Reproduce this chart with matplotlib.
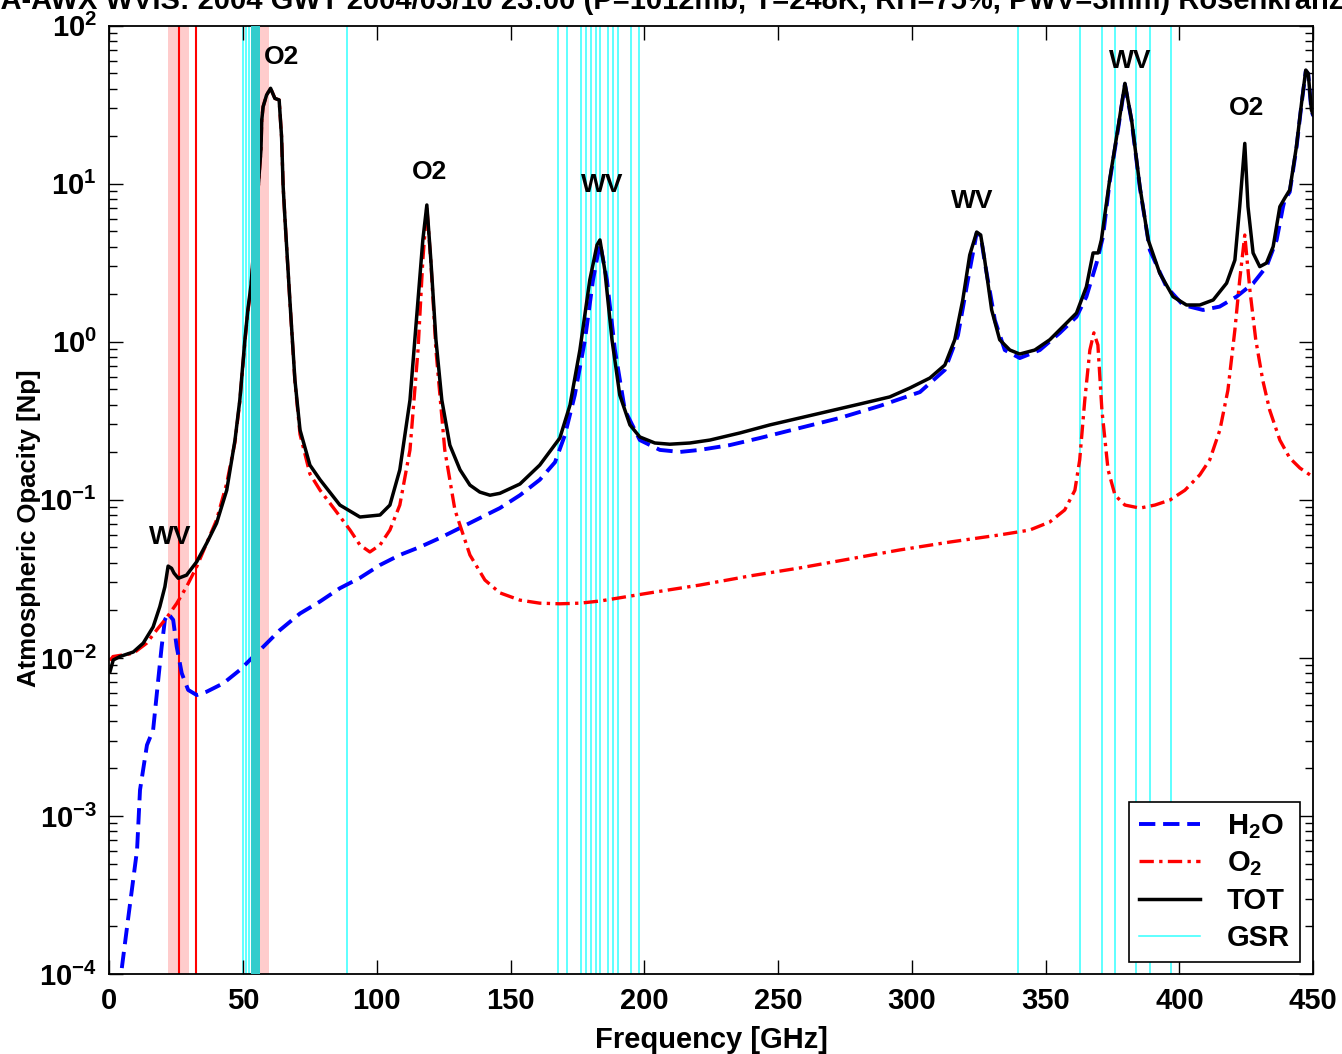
import numpy as np
import matplotlib
matplotlib.use("Agg")
import matplotlib.pyplot as plt
from matplotlib.lines import Line2D

plt.rcParams["font.family"] = ["Liberation Sans", "DejaVu Sans"]
plt.rcParams["font.weight"] = "bold"
plt.rcParams["mathtext.fontset"] = "custom"
plt.rcParams["mathtext.rm"] = "Liberation Sans:bold"
plt.rcParams["mathtext.bf"] = "Liberation Sans:bold"
plt.rcParams["mathtext.default"] = "bf"

# total opacity [Np] vs frequency [GHz]
tot_f = [0.3, 1.5, 4.0, 9.0, 12.7, 16.4, 18.9, 20.8, 22.0, 23.3, 24.2, 25.8, 28.9,
         32.7, 36.4, 40.1, 43.9, 47.0, 48.8, 50.7, 51.8, 53.0,
         56.7, 57.0, 57.5, 58.8, 60.3, 61.9, 63.5, 64.4, 65.0, 65.7, 67.5, 69.4,
         71.3, 75.0, 78.8, 86.2, 93.7, 101.2, 104.9, 108.6, 112.4, 115.4, 117.2,
         118.7, 120.2, 122.1, 124.3, 127.3, 131.1, 134.8, 138.5, 142.3, 146.0,
         153.5, 160.9, 168.4, 172.2, 175.9, 179.6, 182.3, 183.4, 185.2, 187.9,
         190.8, 194.6, 198.3, 203.9, 209.5, 217.0, 224.5, 235.7, 246.9, 258.1,
         269.3, 280.5, 291.7, 299.2, 306.7, 312.3, 316.0, 319.0, 321.6, 324.2,
         325.7, 327.2, 329.8, 332.8, 336.6, 340.3, 345.9, 351.5, 357.1, 361.5,
         365.2, 367.7, 369.6, 370.8, 373.9, 377.1, 379.6, 382.1, 385.2, 388.3,
         392.6, 397.6, 402.6, 407.6, 412.6, 417.6, 420.7, 422.5, 424.4, 425.6,
         427.5, 430.0, 432.5, 435.0, 437.5, 439.3, 441.2, 443.7, 445.6, 447.2,
         448.1, 449.3, 450.0]
tot_v = [0.0082, 0.0097, 0.0102, 0.0109, 0.0124, 0.0157, 0.0211, 0.0282, 0.0381,
         0.0369, 0.0344, 0.0319, 0.0334, 0.0406, 0.0531, 0.0711, 0.115, 0.239,
         0.428, 1.03, 1.59, 2.29,
         16.4, 25.3, 30.7, 36.4, 40.2, 34.7, 33.9, 19.9, 9.58, 5.90, 1.84, 0.573,
         0.277, 0.166, 0.134, 0.0927, 0.0779, 0.0802, 0.0927, 0.155, 0.428, 1.84,
         4.41, 7.34, 3.29, 1.03, 0.428, 0.222, 0.155, 0.124, 0.112, 0.107, 0.110,
         0.126, 0.166, 0.246, 0.398, 0.887, 2.46, 4.10, 4.41, 2.85, 1.03,
         0.461, 0.298, 0.250, 0.229, 0.225, 0.229, 0.239, 0.265, 0.298, 0.330,
         0.365, 0.404, 0.448, 0.510, 0.590, 0.713, 1.03, 1.84, 3.54, 4.95,
         4.74, 3.29, 1.59, 1.03, 0.887, 0.837, 0.887, 1.03, 1.28, 1.52,
         2.23, 3.65, 3.65, 4.41, 10.6, 23.0, 43.2, 25.3, 9.58, 4.41,
         2.72, 1.93, 1.71, 1.71, 1.84, 2.35, 3.29, 7.16, 18.0, 7.16,
         3.65, 2.99, 3.15, 4.00, 7.16, 8.09, 9.13, 17.2, 32.3, 52.4,
         50.0, 29.3, 27.2]

# water vapour contribution
h2o_f = [4.7, 7.0, 10.4, 11.5, 14.1, 16.4, 18.3, 19.6, 20.8, 22.0, 23.9, 25.2,
         27.1, 29.5, 32.7, 36.4, 42.6, 48.8, 56.3, 63.8, 71.3, 78.7, 86.2, 93.7,
         101.2, 108.6, 116.1, 123.6, 131.1, 138.5, 146.0, 153.5, 160.9, 166.6,
         170.3, 174.0, 177.8, 180.8, 183.4, 186.0, 189.0, 192.7, 198.3, 205.8,
         213.3, 220.7, 231.9, 243.1, 258.1, 273.1, 288.0, 303.0, 312.3, 317.2,
         320.9, 324.2, 325.7, 327.2, 331.0, 334.7, 340.3, 347.8, 355.3, 361.5,
         365.2, 369.0, 371.4, 373.9, 377.1, 379.6, 382.1, 385.2, 388.9, 395.1,
         401.3, 408.8, 415.0, 421.3, 427.5, 432.5, 436.3, 438.7, 439.3, 441.2,
         443.7, 445.6, 447.2, 448.1, 449.3, 450.0]
h2o_v = [1.09e-4, 2.2e-4, 6.1e-4, 1.46e-3, 2.81e-3, 3.5e-3, 7.24e-3, 0.0118,
         0.0174, 0.0191, 0.0174, 0.0118, 8.0e-3, 6.27e-3, 5.82e-3, 6.11e-3,
         6.9e-3, 8.38e-3, 0.0112, 0.0150, 0.0191, 0.0227, 0.0276, 0.0321,
         0.0387, 0.0448, 0.0503, 0.0574, 0.0664, 0.0767, 0.0887, 0.107, 0.134,
         0.173, 0.257, 0.461, 1.03, 2.46, 4.22, 2.46, 0.887, 0.370, 0.239,
         0.207, 0.201, 0.207, 0.222, 0.246, 0.285, 0.330, 0.393, 0.481, 0.664,
         1.10, 2.46, 4.88, 4.70, 3.20, 1.37, 0.887, 0.789, 0.887, 1.14, 1.44,
         1.93, 3.15, 4.62, 10.3, 22.5, 42.6, 25.0, 9.4, 3.81, 2.23,
         1.71, 1.59, 1.67, 1.93, 2.34, 2.99, 4.41, 7.16, 7.89, 8.87,
         16.8, 31.9, 51.7, 49.5, 28.9, 26.9]

# oxygen contribution
o2_f = [0.3, 1.4, 9.0, 14.0, 17.7, 21.4, 25.2, 28.9, 32.7, 36.4, 40.1, 43.9,
        47.0, 48.8, 50.7, 51.8, 53.0,
        56.7, 57.0, 57.5, 58.8, 60.3, 61.9, 63.5, 64.4, 65.0, 65.7, 67.5, 69.4,
        71.3, 75.0, 78.8, 84.4, 90.0, 93.7, 97.4, 101.2, 104.9, 108.6, 112.4,
        115.4, 117.2, 118.7, 120.2, 122.1, 125.4, 129.2, 134.8, 140.4, 146.0,
        153.5, 160.9, 168.4, 175.9, 183.4, 202.1, 220.7, 239.4, 258.1, 276.8,
        295.4, 314.2, 332.8, 344.0, 351.5, 357.1, 360.9, 362.7, 364.6, 366.5,
        368.0, 369.5, 371.0, 373.3, 375.9, 379.6, 385.2, 390.8, 396.4, 402.0,
        407.6, 411.3, 415.1, 418.1, 420.7, 422.5, 424.4, 426.3, 428.5, 431.1,
        433.7, 437.5, 441.2, 445.0, 449.8]
o2_v = [0.0096, 0.0102, 0.0107, 0.0124, 0.0150, 0.0179, 0.0221, 0.0282, 0.0378,
        0.0531, 0.0745, 0.127, 0.232, 0.42, 1.0, 1.55, 2.2,
        16.4, 25.3, 30.7, 36.4, 40.2, 34.7, 33.9, 19.9, 9.56, 5.88, 1.82, 0.56,
        0.26, 0.146, 0.115, 0.0863, 0.0644, 0.0518, 0.0468, 0.0518, 0.0644,
        0.0927, 0.207, 0.887, 3.29, 7.12, 3.20, 0.887, 0.207, 0.0863, 0.0448,
        0.0311, 0.0258, 0.0232, 0.0222, 0.0220, 0.0222, 0.0229, 0.0258, 0.0289,
        0.0330, 0.0371, 0.0423, 0.0482, 0.0541, 0.0600, 0.0644, 0.0724, 0.0863,
        0.115, 0.179, 0.428, 0.887, 1.14, 0.955, 0.370, 0.155, 0.107, 0.0927,
        0.0887, 0.0927, 0.0997, 0.115, 0.144, 0.179, 0.277, 0.495, 1.19, 2.46,
        4.74, 2.13, 1.03, 0.573, 0.370, 0.239, 0.184, 0.159, 0.140]

# GSR channel frequencies [GHz]
gsr_lines = [49.9, 51.0, 52.2, 88.8,
             167.7, 171.0, 176.2, 178.0, 179.9, 182.1, 183.4, 186.4, 188.2,
             190.1, 195.0, 197.9,
             339.6, 362.7, 370.9, 376.0, 383.9, 388.9, 396.7]
gsr_band = (53.1, 56.3)
mwr_lines = [26.0, 32.3]
mwr_band = (22.0, 29.7)
o2_band = (53.3, 59.7)

peak_labels = [("WV", 22.7, 0.058), ("O2", 64.2, 63.0), ("O2", 119.8, 11.9),
               ("WV", 184.1, 9.8), ("WV", 322.4, 7.8), ("WV", 381.4, 60.0),
               ("O2", 425.1, 30.0)]

fig = plt.figure(figsize=(13.42, 10.54), dpi=100)
ax = fig.add_axes([0.0814, 0.0759, 0.8972, 0.8997])

ax.axvspan(*mwr_band, color="#ffcccc", lw=0, zorder=0.5)
ax.axvspan(*o2_band, color="#ffcccc", lw=0, zorder=0.5)
for f in mwr_lines:
    ax.axvline(f, color="red", lw=1.5, zorder=1.2)
for f in gsr_lines:
    ax.axvline(f, color="#33ffff", lw=1.1, zorder=1)
ax.axvspan(*gsr_band, color="#33cccc", lw=0, zorder=4)

h2o_ls = (0, (4.2, 2.0))
o2_ls = (0, (4.3, 1.6, 1.0, 1.6))
ax.plot(h2o_f, h2o_v, color="blue", lw=2.8, ls=h2o_ls, zorder=2)
ax.plot(o2_f, o2_v, color="red", lw=2.4, ls=o2_ls, zorder=2.1)
ax.plot(tot_f, tot_v, color="black", lw=2.5, zorder=3)

for txt, f, v in peak_labels:
    ax.text(f, v, txt, ha="center", va="center", fontsize=19, weight="bold")

ax.set_yscale("log")
ax.set_xlim(0, 450)
ax.set_ylim(1e-4, 1e2)
ax.set_xticks(np.arange(0, 451, 50))
ax.tick_params(which="both", direction="in", top=True, right=True,
               labelsize=21, pad=9)
ax.tick_params(which="major", length=10, width=1.0)
ax.tick_params(which="minor", length=6, width=1.0)
for lbl in ax.get_xticklabels() + ax.get_yticklabels():
    lbl.set_fontweight("bold")
for s in ax.spines.values():
    s.set_linewidth(1.3)

ax.set_xlabel("Frequency [GHz]", fontsize=21, weight="bold", labelpad=8)
ax.set_ylabel("Atmospheric Opacity [Np]", fontsize=18.5, weight="bold")
ax.yaxis.set_label_coords(-0.057, 0.47)

handles = [Line2D([], [], color="blue", lw=2.8, ls=h2o_ls),
           Line2D([], [], color="red", lw=2.4, ls=o2_ls),
           Line2D([], [], color="black", lw=2.5),
           Line2D([], [], color="#33ffff", lw=1.1)]
leg = ax.legend(handles, [r"H$_2$O", r"O$_2$", "TOT", "GSR"],
                loc="lower right", bbox_to_anchor=(0.989, 0.0127),
                borderaxespad=0, fontsize=21, handlelength=2.1,
                handletextpad=0.9, fancybox=False, framealpha=1,
                edgecolor="black", labelspacing=0.3, borderpad=0.35)
leg.get_frame().set_linewidth(1.2)
leg.set_zorder(6)

fig.text(-0.03, 1 - 9 / 1054,
         "NSA-AWX WVIS: 2004 GWT 2004/03/10 23:00 (P=1012mb, T=248K, RH=75%, PWV=3mm) Rosenkranz",
         ha="left", va="baseline", fontsize=21, weight="bold")

fig.savefig("out.png", dpi=100)
